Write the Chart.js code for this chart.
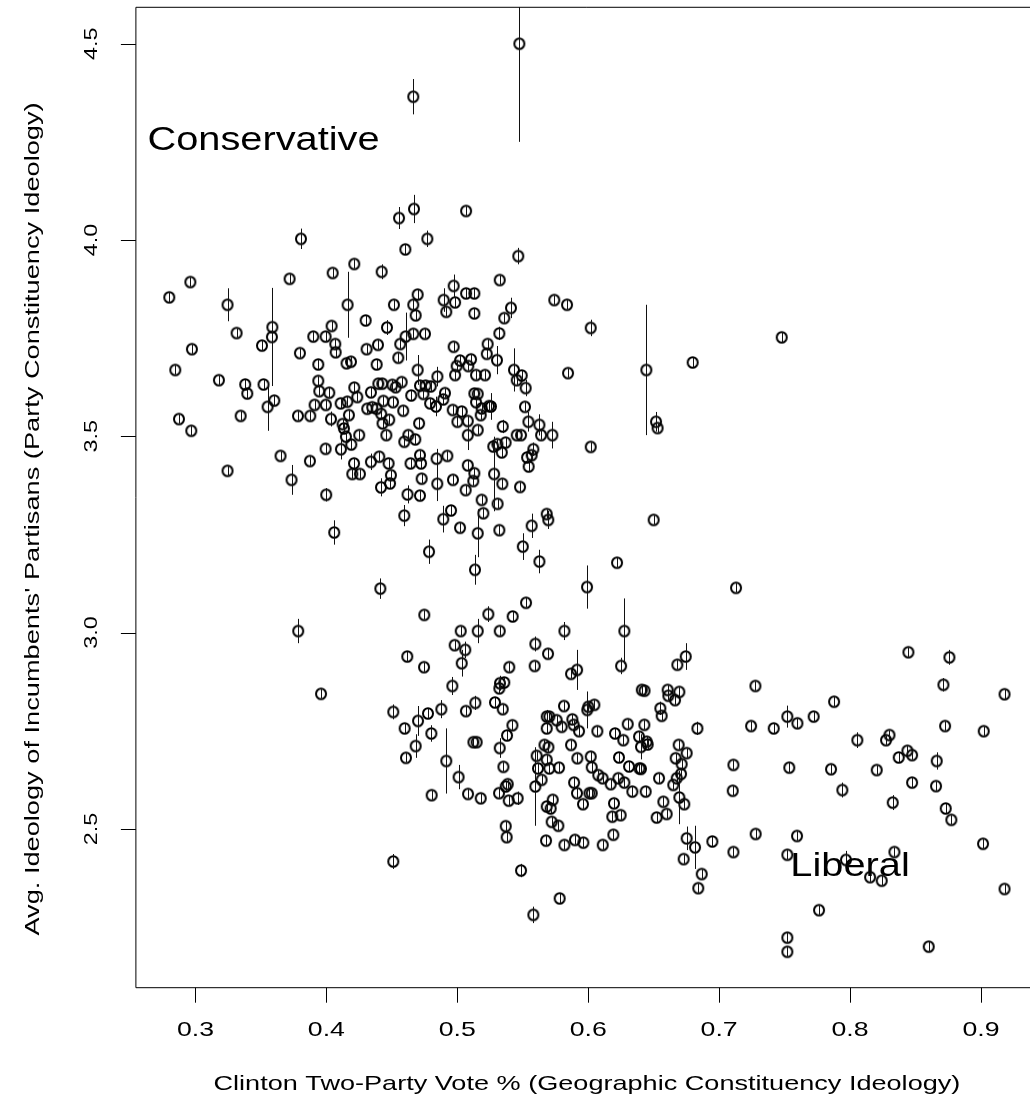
<!DOCTYPE html>
<html>
<head>
<meta charset="utf-8">
<script src="https://cdn.jsdelivr.net/npm/chart.js@4/dist/chart.umd.min.js"></script>
<style>
  html, body { margin: 0; padding: 0; background: #fff; overflow: hidden; }
  #wrap { width: 1045px; height: 1099px; }
</style>
</head>
<body>
<div id="wrap"><canvas id="chart" width="1045" height="1099"></canvas></div>
<script>
// Clinton two-party vote share (x), avg. ideology of incumbents' partisans (y), and the
// half length of each vertical bar (se). One line of each array lines up with the others.
var clintonVote = [
  0.5474, 0.4664, 0.4669, 0.4555, 0.3806, 0.4603, 0.4213, 0.4048, 0.4422, 0.2961,
  0.3719, 0.2800, 0.3245, 0.4162, 0.4516, 0.4664, 0.4697, 0.4682, 0.4300, 0.4463,
  0.4040, 0.3314, 0.3587, 0.3584, 0.3900, 0.3994, 0.3508, 0.2973, 0.4068, 0.4071,
  0.3798, 0.4605, 0.4564, 0.4664, 0.4307, 0.4394, 0.4549, 0.4697, 0.2846, 0.3938,
  0.4154, 0.4188, 0.4384, 0.3179, 0.3380, 0.3396, 0.3520, 0.3602, 0.3551, 0.3938,
  0.3946, 0.4022, 0.4213, 0.4236, 0.4109, 0.4160, 0.3910, 0.3996, 0.4340, 0.4397,
  0.4427, 0.4504, 0.4529, 0.4575, 0.4648, 0.4435, 0.4509, 0.4312, 0.4350, 0.4384,
  0.4419, 0.4587, 0.4172, 0.4035, 0.3783, 0.3877, 0.3345, 0.2874, 0.2968, 0.4124,
  0.4134, 0.4149, 0.4190, 0.4111, 0.4251, 0.4429, 0.4480, 0.4458, 0.4626, 0.4595,
  0.4679, 0.3994, 0.3650, 0.3874, 0.3245, 0.3734, 0.3999, 0.4060, 0.4412, 0.3785,
  0.4211, 0.4198, 0.4256, 0.4340, 0.4404, 0.4475, 0.4493, 0.4486, 0.4417, 0.4620,
  0.4595, 0.4643, 0.5067, 0.4771, 0.5466, 0.5324, 0.4972, 0.5067, 0.5130, 0.4896,
  0.4983, 0.4916, 0.5130, 0.5410, 0.5359, 0.5741, 0.5838, 0.6019, 0.4753, 0.5321,
  0.5232, 0.4972, 0.5225, 0.5303, 0.5021, 0.5105, 0.5084, 0.4995, 0.4983, 0.5143,
  0.5212, 0.4848, 0.5433, 0.5492, 0.5454, 0.5522, 0.5846, 0.6444, 0.6798, 0.4715,
  0.4758, 0.4797, 0.4741, 0.4906, 0.4893, 0.4792, 0.4837, 0.4965, 0.5034, 0.5130,
  0.5156, 0.5143, 0.5186, 0.5179, 0.5242, 0.5257, 0.5517, 0.5001, 0.5080, 0.4708,
  0.5156, 0.5080, 0.5347, 0.5543, 0.5627, 0.5640, 0.5726, 0.5454, 0.5487, 0.5369,
  0.5275, 0.5306, 0.5340, 0.5581, 0.5568, 0.5533, 0.5545, 0.6019, 0.4715, 0.4723,
  0.4842, 0.4847, 0.4924, 0.5080, 0.5130, 0.5122, 0.4728, 0.4967, 0.5064, 0.5281,
  0.5344, 0.5479, 0.4715, 0.5186, 0.5308, 0.4952, 0.5199, 0.4893, 0.5021, 0.5156,
  0.5321, 0.5568, 0.5683, 0.5695, 0.6500, 0.4784, 0.5500, 0.5627, 0.5135, 0.6220,
  0.5991, 0.6518, 0.6530, 0.4748, 0.5237, 0.5423, 0.5525, 0.5026, 0.5156, 0.5324,
  0.5818, 0.6276, 0.7478, 0.4980, 0.5061, 0.5034, 0.4618, 0.4746, 0.5596, 0.5693,
  0.5591, 0.5397, 0.3959, 0.4962, 0.5326, 0.5359, 0.5321, 0.5288, 0.5347, 0.5138,
  0.5066, 0.4878, 0.4776, 0.4511, 0.4700, 0.4598, 0.4802, 0.5421, 0.5380, 0.5148,
  0.5123, 0.4682, 0.4608, 0.4916, 0.5324, 0.5352, 0.5010, 0.4804, 0.5082, 0.5179,
  0.5385, 0.5370, 0.5319, 0.5393, 0.5461, 0.5370, 0.5377, 0.4511, 0.5487, 0.5581,
  0.5596, 0.5683, 0.5703, 0.5683, 0.5666, 0.5696, 0.5606, 0.5683, 0.5616, 0.5703,
  0.5644, 0.5729, 0.5683, 0.5713, 0.5721, 0.5678, 0.7129, 0.6251, 0.5915, 0.5869,
  0.6681, 0.6745, 0.7277, 0.6409, 0.6430, 0.6607, 0.6612, 0.6696, 0.6663, 0.6551,
  0.6561, 0.5815, 0.6001, 0.6047, 0.5993, 0.5759, 0.5797, 0.5879, 0.5889, 0.5930,
  0.6070, 0.6205, 0.6302, 0.6268, 0.6429, 0.6388, 0.6403, 0.6447, 0.6454, 0.6834,
  0.5869, 0.5917, 0.6019, 0.6027, 0.6235, 0.6312, 0.6391, 0.6403, 0.5777, 0.6691,
  0.6752, 0.6668, 0.6714, 0.6709, 0.6676, 0.6650, 0.6696, 0.6734, 0.6541, 0.5892,
  0.5914, 0.6009, 0.6027, 0.5960, 0.6077, 0.6110, 0.6172, 0.6230, 0.6276, 0.6337,
  0.6439, 0.6197, 0.6184, 0.6248, 0.5772, 0.6574, 0.6523, 0.6599, 0.5818, 0.5899,
  0.5963, 0.6111, 0.6192, 0.6752, 0.6816, 0.6948, 0.6729, 0.6867, 0.6841, 0.5782,
  0.7109, 0.7104, 0.7109, 0.7244, 0.7417, 0.7521, 0.7598, 0.7722, 0.7878, 0.7536,
  0.7855, 0.7279, 0.7595, 0.7521, 0.7763, 0.7521, 0.7521, 0.8446, 0.8759, 0.8713,
  0.9180, 0.8726, 0.9021, 0.8056, 0.8301, 0.8275, 0.8438, 0.8474, 0.8372, 0.8662,
  0.8204, 0.8474, 0.8657, 0.7941, 0.8326, 0.8731, 0.8774, 0.9016, 0.9180, 0.7969,
  0.8153, 0.8242, 0.8339, 0.8601
];
var partisanIdeology = [
  4.500, 4.365, 4.079, 4.056, 4.003, 3.976, 3.939, 3.916, 3.919, 3.893,
  3.901, 3.854, 3.835, 3.835, 3.835, 3.835, 3.861, 3.808, 3.795, 3.777,
  3.781, 3.763, 3.778, 3.753, 3.754, 3.754, 3.731, 3.722, 3.735, 3.714,
  3.712, 3.754, 3.735, 3.761, 3.722, 3.733, 3.700, 3.669, 3.669, 3.683,
  3.686, 3.690, 3.683, 3.643, 3.632, 3.609, 3.632, 3.591, 3.575, 3.641,
  3.615, 3.611, 3.624, 3.600, 3.584, 3.588, 3.580, 3.580, 3.612, 3.634,
  3.634, 3.631, 3.625, 3.638, 3.604, 3.590, 3.587, 3.570, 3.574, 3.570,
  3.557, 3.565, 3.554, 3.544, 3.552, 3.552, 3.552, 3.544, 3.514, 3.531,
  3.520, 3.499, 3.479, 3.467, 3.503, 3.533, 3.542, 3.503, 3.503, 3.486,
  3.492, 3.468, 3.450, 3.437, 3.412, 3.389, 3.351, 3.255, 3.112, 3.004,
  3.431, 3.404, 3.404, 3.435, 3.448, 3.431, 3.401, 3.380, 3.370, 3.352,
  3.298, 3.431, 4.074, 4.003, 3.959, 3.898, 3.883, 3.864, 3.864, 3.847,
  3.841, 3.817, 3.813, 3.827, 3.801, 3.847, 3.835, 3.776, 3.761, 3.762,
  3.735, 3.728, 3.710, 3.694, 3.693, 3.696, 3.679, 3.679, 3.656, 3.656,
  3.656, 3.652, 3.669, 3.655, 3.643, 3.623, 3.661, 3.669, 3.688, 3.629,
  3.629, 3.627, 3.608, 3.610, 3.594, 3.584, 3.576, 3.567, 3.563, 3.609,
  3.608, 3.587, 3.571, 3.554, 3.577, 3.576, 3.575, 3.537, 3.539, 3.533,
  3.516, 3.503, 3.525, 3.537, 3.529, 3.503, 3.503, 3.503, 3.503, 3.484,
  3.474, 3.480, 3.459, 3.467, 3.452, 3.446, 3.423, 3.473, 3.452, 3.431,
  3.443, 3.379, 3.450, 3.426, 3.406, 3.386, 3.392, 3.389, 3.363, 3.404,
  3.379, 3.371, 3.349, 3.338, 3.328, 3.311, 3.304, 3.289, 3.267, 3.253,
  3.261, 3.272, 3.302, 3.287, 3.287, 3.206, 3.219, 3.181, 3.160, 3.178,
  3.116, 3.537, 3.521, 3.045, 3.047, 3.041, 3.076, 3.004, 3.004, 3.004,
  3.004, 3.004, 3.752, 2.968, 2.956, 2.922, 2.939, 2.912, 2.971, 2.946,
  2.915, 2.912, 2.844, 2.864, 2.871, 2.873, 2.858, 2.822, 2.805, 2.821,
  2.800, 2.805, 2.794, 2.798, 2.775, 2.756, 2.743, 2.764, 2.738, 2.721,
  2.721, 2.711, 2.681, 2.673, 2.706, 2.658, 2.632, 2.586, 2.589, 2.578,
  2.614, 2.608, 2.591, 2.572, 2.578, 2.507, 2.479, 2.417, 2.394, 2.281,
  2.608, 2.786, 2.786, 2.756, 2.714, 2.708, 2.686, 2.676, 2.654, 2.654,
  2.625, 2.574, 2.557, 2.552, 2.518, 2.470, 3.114, 2.915, 2.905, 2.895,
  2.918, 2.939, 2.864, 2.854, 2.852, 2.854, 2.839, 2.849, 2.828, 2.807,
  2.788, 2.813, 2.811, 2.816, 2.803, 2.777, 2.760, 2.779, 2.765, 2.749,
  2.749, 2.743, 2.767, 2.726, 2.765, 2.735, 2.709, 2.722, 2.715, 2.756,
  2.714, 2.680, 2.684, 2.657, 2.682, 2.659, 2.654, 2.653, 2.656, 2.714,
  2.693, 2.680, 2.665, 2.640, 2.629, 2.612, 2.580, 2.563, 2.629, 2.618,
  2.591, 2.591, 2.591, 2.563, 2.637, 2.629, 2.614, 2.629, 2.618, 2.595,
  2.595, 2.565, 2.531, 2.535, 2.508, 2.569, 2.529, 2.538, 2.459, 2.472,
  2.465, 2.459, 2.485, 2.476, 2.453, 2.468, 2.423, 2.385, 2.349, 2.323,
  2.663, 2.597, 2.441, 2.762, 2.756, 2.786, 2.769, 2.786, 2.824, 2.656,
  2.652, 2.487, 2.482, 2.434, 2.293, 2.223, 2.187, 2.950, 2.937, 2.867,
  2.843, 2.762, 2.749, 2.726, 2.739, 2.726, 2.699, 2.688, 2.682, 2.673,
  2.650, 2.618, 2.609, 2.599, 2.567, 2.552, 2.523, 2.462, 2.347, 2.421,
  2.377, 2.368, 2.441, 2.200
];
var ideologySE = [
  0.250, 0.045, 0.036, 0.028, 0.026, 0.012, 0.012, 0.012, 0.019, 0.012,
  0.012, 0.012, 0.042, 0.084, 0.012, 0.012, 0.012, 0.012, 0.012, 0.019,
  0.012, 0.012, 0.012, 0.125, 0.012, 0.012, 0.012, 0.012, 0.012, 0.012,
  0.012, 0.061, 0.012, 0.012, 0.012, 0.012, 0.012, 0.038, 0.012, 0.012,
  0.012, 0.012, 0.012, 0.012, 0.012, 0.012, 0.012, 0.012, 0.061, 0.012,
  0.012, 0.012, 0.012, 0.012, 0.012, 0.012, 0.012, 0.012, 0.012, 0.012,
  0.012, 0.012, 0.012, 0.012, 0.012, 0.012, 0.012, 0.012, 0.012, 0.012,
  0.012, 0.012, 0.012, 0.019, 0.012, 0.012, 0.012, 0.012, 0.012, 0.012,
  0.012, 0.012, 0.012, 0.026, 0.012, 0.012, 0.012, 0.012, 0.012, 0.012,
  0.012, 0.012, 0.012, 0.012, 0.012, 0.038, 0.017, 0.031, 0.026, 0.031,
  0.012, 0.012, 0.012, 0.021, 0.012, 0.012, 0.012, 0.012, 0.023, 0.023,
  0.027, 0.012, 0.012, 0.021, 0.021, 0.012, 0.029, 0.012, 0.012, 0.030,
  0.012, 0.012, 0.012, 0.026, 0.012, 0.012, 0.012, 0.021, 0.012, 0.017,
  0.012, 0.012, 0.012, 0.036, 0.012, 0.012, 0.012, 0.012, 0.012, 0.012,
  0.012, 0.025, 0.055, 0.012, 0.012, 0.021, 0.012, 0.166, 0.012, 0.012,
  0.012, 0.012, 0.012, 0.012, 0.012, 0.012, 0.025, 0.012, 0.012, 0.012,
  0.012, 0.012, 0.012, 0.012, 0.012, 0.034, 0.012, 0.012, 0.012, 0.012,
  0.012, 0.038, 0.017, 0.025, 0.027, 0.012, 0.034, 0.012, 0.012, 0.012,
  0.012, 0.012, 0.012, 0.017, 0.012, 0.012, 0.012, 0.012, 0.012, 0.012,
  0.025, 0.044, 0.012, 0.012, 0.012, 0.012, 0.012, 0.012, 0.012, 0.095,
  0.012, 0.012, 0.012, 0.012, 0.012, 0.012, 0.012, 0.034, 0.012, 0.061,
  0.012, 0.031, 0.012, 0.023, 0.012, 0.031, 0.034, 0.030, 0.038, 0.012,
  0.055, 0.025, 0.012, 0.012, 0.020, 0.012, 0.012, 0.012, 0.031, 0.012,
  0.023, 0.083, 0.012, 0.012, 0.021, 0.034, 0.012, 0.012, 0.019, 0.012,
  0.012, 0.012, 0.012, 0.023, 0.019, 0.012, 0.012, 0.012, 0.012, 0.018,
  0.012, 0.023, 0.012, 0.019, 0.038, 0.012, 0.021, 0.012, 0.012, 0.012,
  0.012, 0.030, 0.012, 0.083, 0.025, 0.012, 0.031, 0.012, 0.012, 0.012,
  0.012, 0.012, 0.012, 0.012, 0.017, 0.012, 0.012, 0.019, 0.017, 0.021,
  0.100, 0.017, 0.012, 0.012, 0.012, 0.012, 0.012, 0.012, 0.012, 0.012,
  0.012, 0.012, 0.012, 0.012, 0.012, 0.012, 0.012, 0.021, 0.051, 0.012,
  0.012, 0.034, 0.012, 0.012, 0.012, 0.012, 0.012, 0.012, 0.012, 0.017,
  0.012, 0.012, 0.012, 0.012, 0.047, 0.012, 0.012, 0.012, 0.012, 0.012,
  0.012, 0.012, 0.012, 0.012, 0.012, 0.012, 0.032, 0.012, 0.012, 0.017,
  0.012, 0.012, 0.012, 0.012, 0.012, 0.012, 0.012, 0.012, 0.012, 0.012,
  0.012, 0.012, 0.012, 0.012, 0.012, 0.012, 0.068, 0.012, 0.012, 0.012,
  0.012, 0.012, 0.012, 0.012, 0.012, 0.012, 0.012, 0.012, 0.012, 0.012,
  0.012, 0.012, 0.012, 0.012, 0.012, 0.012, 0.012, 0.012, 0.012, 0.012,
  0.012, 0.012, 0.012, 0.030, 0.055, 0.012, 0.012, 0.012, 0.012, 0.012,
  0.012, 0.012, 0.012, 0.012, 0.012, 0.028, 0.012, 0.012, 0.012, 0.012,
  0.012, 0.012, 0.012, 0.012, 0.012, 0.012, 0.012, 0.012, 0.019, 0.017,
  0.012, 0.012, 0.012, 0.020, 0.012, 0.012, 0.012, 0.012, 0.012, 0.022,
  0.012, 0.012, 0.012, 0.019, 0.019, 0.012, 0.012, 0.012, 0.012, 0.023,
  0.012, 0.012, 0.012, 0.012
];

var xTicks = [0.3, 0.4, 0.5, 0.6, 0.7, 0.8, 0.9];
var xTickLabels = ['0.3', '0.4', '0.5', '0.6', '0.7', '0.8', '0.9'];
var yTicks = [2.5, 3.0, 3.5, 4.0, 4.5];
var yTickLabels = ['2.5', '3.0', '3.5', '4.0', '4.5'];

var xTitle = 'Clinton Two-Party Vote % (Geographic Constituency Ideology)';
var yTitle = "Avg. Ideology of Incumbents' Partisans (Party Constituency Ideology)";
var notes = [
  { text: 'Conservative', x: 0.352, y: 4.253 },
  { text: 'Liberal', x: 0.800, y: 2.403 }
];

var points = clintonVote.map(function (v, i) { return { x: v, y: partisanIdeology[i] }; });

// the open marker: a slightly tall ring, like the "o" of the original
function ringMarker() {
  var c = document.createElement('canvas');
  c.width = 16; c.height = 17;
  var g = c.getContext('2d');
  g.strokeStyle = '#000';
  g.lineWidth = 2;
  g.beginPath();
  g.ellipse(8, 8.5, 5, 5.35, 0, 0, Math.PI * 2);
  g.stroke();
  return c;
}

function wideText(ctx, text, x, y, size, stretch, rot, align, base) {
  ctx.save();
  ctx.translate(x, y);
  if (rot) ctx.rotate(rot);
  ctx.scale(stretch, 1);
  ctx.font = size + 'px "Liberation Sans", Arial, sans-serif';
  ctx.fillStyle = '#000';
  ctx.textAlign = align;
  ctx.textBaseline = base;
  ctx.fillText(text, 0, 0);
  ctx.restore();
}

// vertical bars through each point
var errorBars = {
  id: 'errorBars',
  afterDatasetsDraw: function (chart) {
    var ctx = chart.ctx, a = chart.chartArea;
    var xs = chart.scales.x, ys = chart.scales.y;
    ctx.save();
    ctx.beginPath();
    ctx.rect(a.left, a.top, a.right - a.left, a.bottom - a.top);
    ctx.clip();
    ctx.strokeStyle = '#111';
    ctx.lineWidth = 1;
    ctx.beginPath();
    for (var i = 0; i < clintonVote.length; i++) {
      var px = Math.round(xs.getPixelForValue(clintonVote[i])) + 0.5;
      ctx.moveTo(px, ys.getPixelForValue(partisanIdeology[i] + ideologySE[i]));
      ctx.lineTo(px, ys.getPixelForValue(partisanIdeology[i] - ideologySE[i]));
    }
    ctx.stroke();
    ctx.restore();
  }
};

// R-style box, ticks, labels and the two notes
var rAxes = {
  id: 'rAxes',
  afterDraw: function (chart) {
    var ctx = chart.ctx, a = chart.chartArea;
    var xs = chart.scales.x, ys = chart.scales.y;
    ctx.save();
    ctx.strokeStyle = '#000';
    ctx.lineWidth = 1;
    ctx.beginPath();
    ctx.moveTo(a.right, a.top); ctx.lineTo(a.left, a.top);
    ctx.lineTo(a.left, a.bottom); ctx.lineTo(a.right, a.bottom);
    xTicks.forEach(function (t) {
      var px = Math.round(xs.getPixelForValue(t)) + 0.5;
      ctx.moveTo(px, a.bottom); ctx.lineTo(px, a.bottom + 15);
    });
    yTicks.forEach(function (t) {
      var py = Math.round(ys.getPixelForValue(t)) + 0.5;
      ctx.moveTo(a.left, py); ctx.lineTo(a.left - 15, py);
    });
    ctx.stroke();
    ctx.restore();

    xTicks.forEach(function (t, i) {
      wideText(ctx, xTickLabels[i], xs.getPixelForValue(t), 1036, 21, 1.27, 0, 'center', 'alphabetic');
    });
    yTicks.forEach(function (t, i) {
      wideText(ctx, yTickLabels[i], 97, ys.getPixelForValue(t), 18, 1.3, -Math.PI / 2, 'center', 'alphabetic');
    });
    wideText(ctx, xTitle, (a.left + a.right) / 2, 1090, 21, 1.29, 0, 'center', 'alphabetic');
    wideText(ctx, yTitle, 39, 519, 20, 1.36, -Math.PI / 2, 'center', 'alphabetic');
    notes.forEach(function (n) {
      wideText(ctx, n.text, xs.getPixelForValue(n.x), ys.getPixelForValue(n.y), 34, 1.17, 0, 'center', 'middle');
    });
  }
};

new Chart(document.getElementById('chart'), {
  type: 'scatter',
  data: {
    datasets: [{
      label: 'Districts',
      data: points,
      pointStyle: ringMarker(),
      pointRadius: 6
    }]
  },
  options: {
    responsive: false,
    animation: false,
    devicePixelRatio: 1,
    events: [],
    layout: { padding: { left: 135.9, top: 7.3, right: 7.1, bottom: 111.3 } },
    scales: {
      x: { type: 'linear', min: 0.2545, max: 0.9435, display: false },
      y: { type: 'linear', min: 2.0955, max: 4.5927, display: false }
    },
    plugins: { legend: { display: false }, tooltip: { enabled: false } }
  },
  plugins: [errorBars, rAxes]
});
</script>
</body>
</html>
